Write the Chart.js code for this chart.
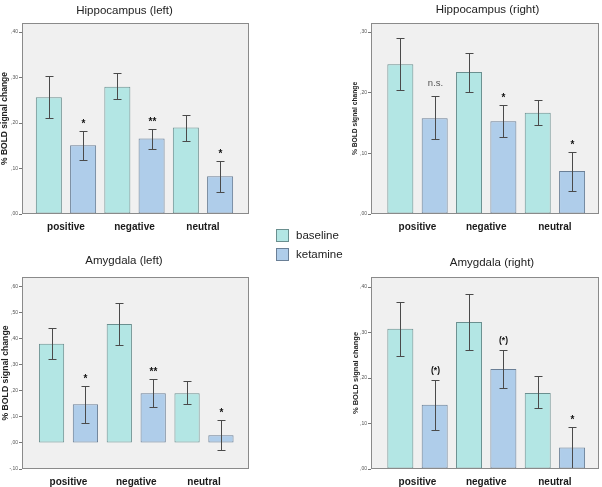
<!DOCTYPE html>
<html>
<head>
<meta charset="utf-8">
<title>% BOLD signal change</title>
<script src="https://cdn.jsdelivr.net/npm/chart.js@4.4.1/dist/chart.umd.min.js"></script>
<style>
  body { margin: 0; background: #fff; font-family: 'Liberation Sans', Arial, sans-serif; }
  #wrap { position: relative; width: 602px; height: 487px; overflow: hidden; }
  #wrap canvas { position: absolute; }
  .legend-item { position: absolute; left: 276px; font-size: 11.5px; color: #222; line-height: 13px; white-space: nowrap; }
  .legend-item span { display: inline-block; width: 11px; height: 11px; border: 1px solid; vertical-align: top; margin-right: 7px; }
</style>
</head>
<body>
<div id="wrap">
  <canvas id="hippLeft" width="260" height="240" style="left:0;top:0"></canvas>
  <canvas id="hippRight" width="272" height="240" style="left:330px;top:0"></canvas>
  <canvas id="amyLeft" width="260" height="247" style="left:0;top:240px"></canvas>
  <canvas id="amyRight" width="272" height="247" style="left:330px;top:240px"></canvas>
  <div class="legend-item" style="top:229px"><span style="background:#b3e6e4;border-color:#6a8f8f"></span>baseline</div>
  <div class="legend-item" style="top:248px"><span style="background:#afcdea;border-color:#6a7f96"></span>ketamine</div>
</div>
<script>
const categories = ['positive', 'negative', 'neutral'];

// Hippocampus (left)
const hippLeftBaseline = [0.257, 0.280, 0.190];
const hippLeftBaselineCI = [[0.212, 0.304], [0.252, 0.309], [0.161, 0.217]];
const hippLeftKetamine = [0.151, 0.166, 0.083];
const hippLeftKetamineCI = [[0.118, 0.183], [0.142, 0.188], [0.049, 0.116]];
const hippLeftSig = ['*', '**', '*'];

// Hippocampus (right)
const hippRightBaseline = [0.247, 0.234, 0.167];
const hippRightBaselineCI = [[0.204, 0.290], [0.201, 0.266], [0.146, 0.188]];
const hippRightKetamine = [0.158, 0.153, 0.071];
const hippRightKetamineCI = [[0.124, 0.194], [0.127, 0.180], [0.038, 0.103]];
const hippRightSig = ['n.s.', '*', '*'];

// Amygdala (left)
const amyLeftBaseline = [0.379, 0.455, 0.190];
const amyLeftBaselineCI = [[0.322, 0.439], [0.374, 0.535], [0.148, 0.235]];
const amyLeftKetamine = [0.148, 0.190, 0.029];
const amyLeftKetamineCI = [[0.075, 0.218], [0.139, 0.244], [-0.028, 0.088]];
const amyLeftSig = ['*', '**', '*'];

// Amygdala (right)
const amyRightBaseline = [0.308, 0.323, 0.167];
const amyRightBaselineCI = [[0.249, 0.367], [0.262, 0.384], [0.133, 0.204]];
const amyRightKetamine = [0.141, 0.220, 0.047];
const amyRightKetamineCI = [[0.086, 0.196], [0.179, 0.262], [0.002, 0.092]];
const amyRightSig = ['(*)', '(*)', '*'];

const FONT = "'Liberation Sans', Arial, sans-serif";

// plot background and frame
const plotFrame = {
    id: 'plotFrame',
    beforeDraw(chart) {
        const { ctx, chartArea: a } = chart;
        ctx.save();
        ctx.fillStyle = '#f0f0f0';
        ctx.fillRect(a.left, a.top, a.right - a.left, a.bottom - a.top);
        ctx.restore();
    },
    afterDraw(chart) {
        const { ctx, chartArea: a } = chart;
        ctx.save();
        ctx.strokeStyle = '#8a8a8a';
        ctx.lineWidth = 1;
        ctx.strokeRect(Math.round(a.left) + 0.5, Math.round(a.top) + 0.5,
            Math.round(a.right - a.left) - 1, Math.round(a.bottom - a.top) - 1);
        ctx.restore();
    }
};

// panel title (drawn without taking layout space)
const panelTitle = {
    id: 'panelTitle',
    afterDraw(chart, args, opts) {
        const ctx = chart.ctx;
        ctx.save();
        ctx.font = '11.5px ' + FONT;
        ctx.fillStyle = '#222';
        ctx.textAlign = 'center';
        ctx.textBaseline = 'middle';
        ctx.fillText(opts.text, opts.x, opts.y);
        ctx.restore();
    }
};

// error bars + significance marks
const sigStyle = {
    '*': { font: 'bold 10px ' + FONT, lift: 4.5, color: '#111' },
    '**': { font: 'bold 10px ' + FONT, lift: 4.5, color: '#111' },
    '(*)': { font: 'bold 8.5px ' + FONT, lift: 8, color: '#111' },
    'n.s.': { font: '9.5px ' + FONT, lift: 11, color: '#555' }
};

const errorBars = {
    id: 'errorBars',
    afterDatasetsDraw(chart) {
        const { ctx } = chart;
        const yScale = chart.scales.y;
        chart.data.datasets.forEach((ds, di) => {
            const meta = chart.getDatasetMeta(di);
            meta.data.forEach((bar, i) => {
                const lo = ds.ci[i][0], hi = ds.ci[i][1];
                const x = Math.round(bar.x) + 0.5;
                const yLo = Math.round(yScale.getPixelForValue(lo)) + 0.5;
                const yHi = Math.round(yScale.getPixelForValue(hi)) + 0.5;
                ctx.save();
                ctx.strokeStyle = '#4a4a4a';
                ctx.lineWidth = 1;
                ctx.beginPath();
                ctx.moveTo(x, yHi); ctx.lineTo(x, yLo);
                ctx.moveTo(x - 4, yHi); ctx.lineTo(x + 4, yHi);
                ctx.moveTo(x - 4, yLo); ctx.lineTo(x + 4, yLo);
                ctx.stroke();
                if (ds.sig) {
                    const s = sigStyle[ds.sig[i]];
                    ctx.font = s.font;
                    ctx.fillStyle = s.color;
                    ctx.textAlign = 'center';
                    ctx.textBaseline = 'alphabetic';
                    ctx.fillText(ds.sig[i], x, yHi - s.lift);
                }
                ctx.restore();
            });
        });
    }
};

function tickLabel(v) {
    const n = Math.round(Math.abs(v) * 100);
    if (n % 10 !== 0) return '';
    return (v < 0 ? '-' : '') + ',' + String(n).padStart(2, '0');
}

function toPoints(values) {
    return values.map((v, i) => ({ x: i, y: v }));
}

function makePanel(p) {
    const yTitleLine = p.yTitleSize * 1.2;
    new Chart(document.getElementById(p.canvas), {
        type: 'bar',
        data: {
            datasets: [{
                label: 'baseline',
                data: toPoints(p.base),
                ci: p.baseCI,
                backgroundColor: '#b3e6e4',
                borderColor: '#6a8f8f',
                borderWidth: 1,
                borderSkipped: false,
                categoryPercentage: 1,
                barPercentage: p.barPct
            }, {
                label: 'ketamine',
                data: toPoints(p.ket),
                ci: p.ketCI,
                sig: p.sig,
                backgroundColor: '#afcdea',
                borderColor: '#6a7f96',
                borderWidth: 1,
                borderSkipped: false,
                categoryPercentage: 1,
                barPercentage: p.barPct
            }]
        },
        options: {
            responsive: false,
            animation: false,
            layout: { padding: { left: 0, top: p.area.top, right: p.width - p.area.right, bottom: 0 } },
            plugins: {
                legend: { display: false },
                tooltip: { enabled: false },
                panelTitle: { text: p.title, x: p.titleX, y: p.titleY }
            },
            scales: {
                x: {
                    type: 'linear',
                    offset: false,
                    min: p.xMin,
                    max: p.xMax,
                    afterFit: s => { s.height = p.height - p.area.bottom; },
                    grid: { display: false, drawTicks: false },
                    border: { display: false },
                    ticks: {
                        stepSize: 1,
                        includeBounds: false,
                        autoSkip: false,
                        maxRotation: 0,
                        padding: 7,
                        color: '#1a1a1a',
                        font: { family: FONT, size: 10, weight: 'bold' },
                        callback: v => Number.isInteger(v) ? categories[v] : ''
                    }
                },
                y: {
                    min: p.yMin,
                    max: p.yMax,
                    afterFit: s => { s.width = p.area.left; },
                    grid: { drawOnChartArea: false, drawTicks: true, tickLength: 3, color: '#777' },
                    border: { display: false },
                    ticks: {
                        stepSize: 0.1,
                        includeBounds: false,
                        padding: 1,
                        color: '#555',
                        font: { family: FONT, size: 5 },
                        callback: tickLabel
                    },
                    title: {
                        display: true,
                        text: '% BOLD signal change',
                        color: '#222',
                        font: { family: FONT, size: p.yTitleSize, weight: 'bold' },
                        padding: { top: Math.max(0, p.yTitleX - yTitleLine / 2), bottom: 0 }
                    }
                }
            }
        },
        plugins: [plotFrame, errorBars, panelTitle]
    });
}

makePanel({
    canvas: 'hippLeft', title: 'Hippocampus (left)',
    base: hippLeftBaseline, baseCI: hippLeftBaselineCI,
    ket: hippLeftKetamine, ketCI: hippLeftKetamineCI, sig: hippLeftSig,
    yMin: 0, yMax: 0.42, xMin: -0.642, xMax: 2.672, barPct: 0.76,
    width: 260, height: 240, area: { left: 22, right: 249, top: 23, bottom: 214 },
    titleX: 124.5, titleY: 11, yTitleSize: 8.5, yTitleX: 5
});

makePanel({
    canvas: 'hippRight', title: 'Hippocampus (right)',
    base: hippRightBaseline, baseCI: hippRightBaselineCI,
    ket: hippRightKetamine, ketCI: hippRightKetamineCI, sig: hippRightSig,
    yMin: 0, yMax: 0.315, xMin: -0.677, xMax: 2.642, barPct: 0.757,
    width: 272, height: 240, area: { left: 41, right: 269, top: 23, bottom: 214 },
    titleX: 157.5, titleY: 10, yTitleSize: 6.7, yTitleX: 25.5
});

makePanel({
    canvas: 'amyLeft', title: 'Amygdala (left)',
    base: amyLeftBaseline, baseCI: amyLeftBaselineCI,
    ket: amyLeftKetamine, ketCI: amyLeftKetamineCI, sig: amyLeftSig,
    yMin: -0.1, yMax: 0.635, xMin: -0.686, xMax: 2.664, barPct: 0.745,
    width: 260, height: 247, area: { left: 22, right: 249, top: 37, bottom: 229 },
    titleX: 124, titleY: 21, yTitleSize: 8.7, yTitleX: 5
});

makePanel({
    canvas: 'amyRight', title: 'Amygdala (right)',
    base: amyRightBaseline, baseCI: amyRightBaselineCI,
    ket: amyRightKetamine, ketCI: amyRightKetamineCI, sig: amyRightSig,
    yMin: 0, yMax: 0.422, xMin: -0.677, xMax: 2.642, barPct: 0.757,
    width: 272, height: 247, area: { left: 41, right: 269, top: 37, bottom: 229 },
    titleX: 162, titleY: 23, yTitleSize: 7.5, yTitleX: 25.5
});
</script>
</body>
</html>
